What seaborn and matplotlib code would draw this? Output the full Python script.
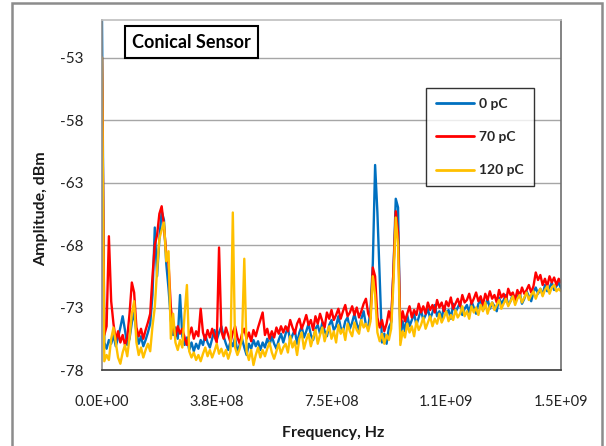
import numpy as np
import pandas as pd
import matplotlib
matplotlib.use("Agg")
import matplotlib.pyplot as plt
import seaborn as sns
from matplotlib.patches import Rectangle

# ---------------- data ----------------
freq_step_hz = 7.5e6  # spacing of the sampled frequency points

amp_0pC = [
    -50.0, -75.8, -76.3, -75.6, -75.9, -75.2, -76.1, -75.4, -74.6, -73.7,
    -74.8, -76.0, -75.5, -74.2, -73.4, -75.0, -75.9, -75.3, -76.1, -75.6,
    -75.0, -74.3, -72.0, -66.6, -70.5, -67.5, -65.3, -66.0, -69.5, -71.5,
    -74.0, -75.2, -74.6, -75.5, -72.0, -75.3, -76.0, -75.4, -76.4, -75.8,
    -76.5, -75.9, -76.3, -75.6, -76.0, -75.2, -75.8, -76.2, -75.5, -74.8,
    -75.6, -75.0, -74.5, -75.3, -75.9, -76.4, -75.7, -76.1, -75.4, -76.6,
    -76.0, -75.5, -76.2, -76.8, -75.9, -76.3, -75.6, -76.1, -75.7, -76.4,
    -75.8, -76.2, -75.5, -76.0, -75.3, -75.9, -76.3, -75.6, -75.1, -75.8,
    -75.1, -74.6, -75.7, -75.2, -74.8, -75.9, -75.0, -74.5, -75.4, -74.9,
    -74.3, -75.2, -75.6, -74.7, -74.4, -75.1, -74.2, -74.9, -75.3, -74.4,
    -74.0, -74.8, -74.5, -73.7, -74.6, -74.9, -74.1, -73.8, -74.7, -74.2,
    -73.5, -74.3, -74.8, -73.9, -73.3, -74.4, -74.6, -73.2, -69.5, -61.6,
    -65.4, -70.5, -75.8, -75.1, -75.9, -74.6, -74.2, -70.0, -64.3, -65.0,
    -75.6, -74.1, -74.9, -73.6, -74.5, -74.0, -73.5, -74.4, -73.8, -73.2,
    -74.0, -73.6, -73.1, -73.9, -73.4, -72.8, -73.7, -73.3, -73.9, -72.9,
    -73.5, -73.2, -73.9, -72.7, -73.4, -73.0, -72.6, -73.6, -73.1, -72.8,
    -73.4, -72.5, -73.0, -73.5, -72.7, -72.4, -73.2, -72.9, -72.3, -73.1,
    -72.6, -72.9, -73.3, -72.2, -72.7, -72.4, -72.0, -72.8, -72.5, -71.9,
    -72.6, -72.2, -71.8, -72.7, -72.3, -71.7, -72.1, -72.5, -71.8, -71.4,
    -71.9, -71.5, -72.0, -71.2, -71.7, -71.4, -71.0, -71.6, -71.3, -71.0,
    -71.5,
]

amp_70pC = [
    -53.0, -75.2, -74.5, -67.3, -72.5, -74.3, -75.6, -74.9, -75.8, -75.2,
    -76.0, -75.4, -73.5, -71.0, -71.8, -74.6, -75.3, -74.7, -75.5, -74.8,
    -74.2, -73.5, -70.5, -68.0, -67.2, -65.5, -64.9, -66.5, -68.7, -69.5,
    -73.0, -74.6, -75.3, -74.5, -75.1, -74.7, -75.4, -76.0, -75.2, -74.6,
    -75.5, -74.9, -75.3, -73.1, -75.0, -75.6, -74.8, -75.4, -74.7, -75.3,
    -75.8, -68.2, -74.9, -75.5, -74.6, -75.2, -75.8, -75.0, -74.5, -75.4,
    -75.9, -75.1, -74.7, -75.5, -75.0, -75.7, -74.8, -75.3, -74.6, -74.0,
    -73.4, -75.2, -74.7, -75.5, -74.9, -75.4, -74.6, -75.1, -74.5, -75.0,
    -74.5, -74.9, -74.0, -74.6, -75.1, -74.3, -73.9, -74.7, -74.2, -73.6,
    -74.4, -74.0, -74.8, -73.7, -74.3, -73.5, -74.1, -74.6, -73.4, -73.9,
    -73.2, -74.0, -73.6, -73.1, -73.9, -73.3, -72.8, -73.7, -73.4, -72.9,
    -73.6, -73.0, -73.8, -73.3, -72.7, -72.3, -73.5, -73.9, -69.8, -70.5,
    -73.8, -74.6, -74.0, -74.9, -74.3, -73.3, -74.1, -70.0, -65.3, -67.0,
    -74.6, -73.3, -74.1, -73.5, -72.9, -73.8, -73.2, -73.6, -72.7, -73.4,
    -72.9, -73.5, -72.6, -73.2, -72.8, -73.4, -72.4, -73.0, -72.6, -73.3,
    -72.5, -72.9, -72.2, -73.1, -72.7, -72.3, -72.9, -72.0, -72.6, -72.4,
    -71.9, -72.7, -72.3, -71.8, -72.5, -72.1, -72.8, -71.9, -72.4, -71.7,
    -72.3, -72.0, -72.6, -71.6, -72.2, -71.9, -72.5, -71.5, -72.0, -71.8,
    -72.4, -71.6, -72.1, -71.4, -71.9, -71.6, -71.2, -71.8, -71.3, -70.2,
    -70.8, -70.4, -71.2, -70.7, -71.3, -70.5, -71.0, -70.6, -71.2, -70.7,
    -71.0,
]

amp_120pC = [
    -53.0, -77.3, -76.8, -77.2, -75.5, -74.6, -75.8, -77.0, -77.5, -76.6,
    -76.0, -76.9, -75.4, -73.5, -72.5, -75.8, -76.8, -76.2, -77.0, -76.4,
    -75.9, -76.5, -74.5, -73.0, -70.0, -67.5, -66.8, -66.2, -69.3, -68.5,
    -75.5, -73.5, -75.8, -76.4, -75.6, -76.2, -73.5, -71.2, -76.5, -77.0,
    -76.6, -77.2, -76.8, -77.3, -76.7, -76.2, -76.9, -76.4, -77.0, -76.5,
    -75.9, -76.7, -76.3, -76.9, -76.4, -77.1, -76.5, -65.4, -76.2, -76.8,
    -76.3, -75.5, -69.1, -76.5, -77.2, -76.4, -77.6, -76.8, -76.2, -77.0,
    -76.4, -76.9, -76.3, -75.8, -76.6, -77.1, -76.5, -75.9, -76.7, -76.2,
    -75.9, -76.6, -75.3, -76.2, -75.7, -76.8, -75.5, -75.0, -76.3, -75.6,
    -75.1, -76.1, -75.4, -74.8, -75.9, -75.2, -74.6, -75.7, -75.0, -74.5,
    -75.5, -74.9, -75.8, -74.4, -75.1, -74.7, -75.6, -74.3, -74.9, -75.3,
    -74.2, -74.8, -75.1, -74.0, -74.6, -74.3, -74.9, -74.1, -70.5, -72.0,
    -75.0, -75.7, -75.1, -75.9, -75.2, -75.6, -74.7, -71.0, -65.8, -68.0,
    -76.0, -74.9, -75.4, -74.3, -75.0, -74.5, -75.3, -74.1, -74.8, -74.4,
    -73.8, -74.7, -74.2, -73.7, -74.5, -73.9, -74.3, -73.5, -74.2, -73.8,
    -73.3, -74.1, -73.6, -74.0, -73.2, -73.8, -73.5, -72.9, -73.7, -73.3,
    -73.9, -72.9, -73.4, -73.0, -73.6, -72.8, -73.3, -72.6, -73.5, -72.9,
    -72.6, -73.2, -72.8, -72.4, -73.1, -72.7, -72.3, -72.9, -72.5, -72.1,
    -72.8, -72.3, -72.0, -72.6, -72.2, -71.8, -72.4, -72.0, -71.7, -72.3,
    -71.8, -71.5, -72.1, -71.6, -71.3, -71.9, -71.4, -71.2, -71.7, -71.5,
    -71.7,
]

series_names = ["0 pC", "70 pC", "120 pC"]
series_colors = ["#0070C0", "#FF0000", "#FFC000"]
ytick_values = [-78, -73, -68, -63, -58, -53]
xtick_values = [0.0, 3.75e8, 7.5e8, 1.125e9, 1.5e9]
xtick_labels = ["0.0E+00", "3.8E+08", "7.5E+08", "1.1E+09", "1.5E+09"]

# ---------------- build long-form table ----------------
frames = []
for name, amps in zip(series_names, [amp_0pC, amp_70pC, amp_120pC]):
    frames.append(pd.DataFrame({
        "freq": np.arange(len(amps)) * freq_step_hz,
        "amp": amps,
        "series": name,
    }))
df = pd.concat(frames, ignore_index=True)

# ---------------- style ----------------
sns.set_style("white")
plt.rcParams["font.family"] = ["Lato", "DejaVu Sans"]

W, H = 606, 446
fig = plt.figure(figsize=(W / 100, H / 100), dpi=100)
ax = fig.add_axes([102 / W, 76 / H, 459 / W, 350 / H])

sns.lineplot(
    data=df, x="freq", y="amp", hue="series",
    hue_order=series_names, palette=dict(zip(series_names, series_colors)),
    estimator=None, errorbar=None, linewidth=1.7, ax=ax,
)

ax.set_xlim(0, 1.5e9)
ax.set_ylim(-78, -50)
ax.set_yticks(ytick_values)
ax.set_yticklabels([str(v) for v in ytick_values], fontsize=11)
ax.set_xticks(xtick_values)
ax.set_xticklabels(xtick_labels, fontsize=10.5)
ax.tick_params(axis="both", length=0, colors="#222222")
ax.tick_params(axis="y", pad=13.5)
ax.tick_params(axis="x", pad=18)
ax.grid(axis="y", color="#A6A6A6", linewidth=1.0)
ax.set_axisbelow(True)
ax.set_xlabel("")
ax.set_ylabel("")

ax.spines["left"].set_color("#8C8C8C")
ax.spines["bottom"].set_color("#3A3A3A")
ax.spines["right"].set_color("#6E6E6E")
ax.spines["top"].set_color("#BFBFBF")
for s in ax.spines.values():
    s.set_linewidth(1.2)

fig.text(333 / W, 1 - 433 / H, "Frequency, Hz", fontsize=11.5, fontweight="bold",
         ha="center", va="center", color="#1A1A1A")
fig.text(41 / W, 1 - 209 / H, "Amplitude, dBm", fontsize=11.5, fontweight="bold",
         rotation=90, ha="center", va="center", color="#1A1A1A")

# title box inside plot
fig.text(132 / W, 1 - 42 / H, "Conical Sensor", fontsize=13, fontweight="bold",
         ha="left", va="center", color="black",
         bbox=dict(boxstyle="square,pad=0.4", facecolor="white",
                   edgecolor="black", linewidth=1.5))

# legend
leg = ax.legend(
    loc="upper left", bbox_to_anchor=((426 - 102) / 459, (370 - 88) / 350),
    frameon=True, fancybox=False, edgecolor="black",
    prop={"size": 10, "weight": "bold"},
    handlelength=2.75, handletextpad=0.36, labelspacing=1.53, borderpad=0.72,
    borderaxespad=0.0,
)
leg.get_frame().set_linewidth(1.0)
for line in leg.get_lines():
    line.set_linewidth(2.0)

# outer chart frame
fig.patches.append(Rectangle((12 / W, -0.05), (602 - 12) / W, 1 - 3 / H + 0.05,
                             transform=fig.transFigure, fill=False,
                             edgecolor="#8C8C8C", linewidth=1.8))

fig.savefig("out.png", dpi=100)
